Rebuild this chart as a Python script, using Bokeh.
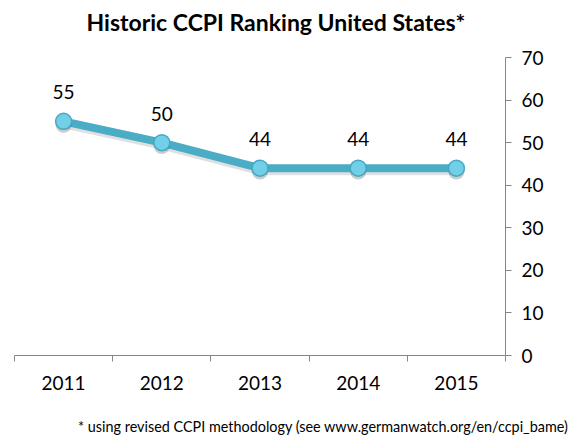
from bokeh.plotting import figure
from bokeh.models import (Range1d, LinearAxis, FixedTicker, ColumnDataSource,
                          LabelSet, Title)
from bokeh.core.properties import value
from bokeh.transform import dodge
from bokeh.embed import file_html
from bokeh.resources import INLINE

years = ["2011", "2012", "2013", "2014", "2015"]
ranking = [55, 50, 44, 44, 44]
y_ticks = [0, 10, 20, 30, 40, 50, 60, 70]

FONT = "Lato"
pos = [i + 0.5 for i in range(len(years))]
src = ColumnDataSource(dict(x=pos, y=ranking, lbl=[str(v) for v in ranking]))

p = figure(width=576, height=440, output_backend="svg", toolbar_location=None,
           x_range=Range1d(0, len(years)), y_range=Range1d(0, 70),
           x_axis_location=None, y_axis_location=None,
           min_border_left=14, min_border_right=71, min_border_top=57,
           min_border_bottom=84)
p.outline_line_color = None
p.grid.visible = False
p.background_fill_color = "white"
p.border_fill_color = "white"

# right y axis
ya = LinearAxis(ticker=FixedTicker(ticks=y_ticks))
ya.axis_line_color = "#868686"
ya.major_tick_line_color = "#868686"
ya.major_tick_in = 0
ya.major_tick_out = 6
ya.minor_tick_line_color = None
ya.major_label_text_font = FONT
ya.major_label_text_font_size = "19px"
ya.major_label_text_color = "#000000"
ya.major_label_standoff = 10
p.add_layout(ya, "right")

# bottom x axis: labels at band centres, tick marks at band edges
xa = LinearAxis(ticker=FixedTicker(ticks=pos, minor_ticks=list(range(len(years) + 1))))
xa.major_label_overrides = {pos[i]: years[i] for i in range(len(years))}
xa.axis_line_color = "#868686"
xa.major_tick_line_color = None
xa.major_tick_in = 0
xa.major_tick_out = 0
xa.minor_tick_line_color = "#868686"
xa.minor_tick_in = 0
xa.minor_tick_out = 6
xa.major_label_text_font = FONT
xa.major_label_text_font_size = "19px"
xa.major_label_text_color = "#000000"
xa.major_label_standoff = 14
p.add_layout(xa, "below")

# line and markers
p.line("x", dodge("y", -0.7), source=src, line_width=8, color="#000000", alpha=0.12)
p.line("x", "y", source=src, line_width=8, color="#4BACC6")
p.scatter("x", dodge("y", -0.8), source=src, size=16, fill_color="#000000",
          fill_alpha=0.2, line_color=None)
p.scatter("x", "y", source=src, size=16, fill_color="#72CFE8",
          line_color="#44A8C3", line_width=1.5)

labels = LabelSet(x="x", y="y", text="lbl", source=src, text_align="center",
                  text_baseline="middle", y_offset=29, text_font=value(FONT),
                  text_font_size="19px", text_color="#000000")
p.add_layout(labels)

# spacers (closest to the frame) and texts
p.add_layout(Title(text=" ", text_font_size="1px", standoff=15), "above")
p.add_layout(Title(text="Historic CCPI Ranking United States*", align="left", offset=72,
                   text_font=FONT, text_font_size="23px", text_font_style="bold",
                   text_color="#000000", standoff=8), "above")

p.add_layout(Title(text=" ", text_font_size="1px", standoff=14), "below")
p.add_layout(Title(text="* using revised CCPI methodology (see www.germanwatch.org/en/ccpi_bame)",
                   align="right", offset=-63, text_font=FONT, text_font_size="14.4px",
                   text_font_style="normal", text_color="#000000", standoff=12), "below")

open("out.html", "w").write(file_html(p, INLINE))
